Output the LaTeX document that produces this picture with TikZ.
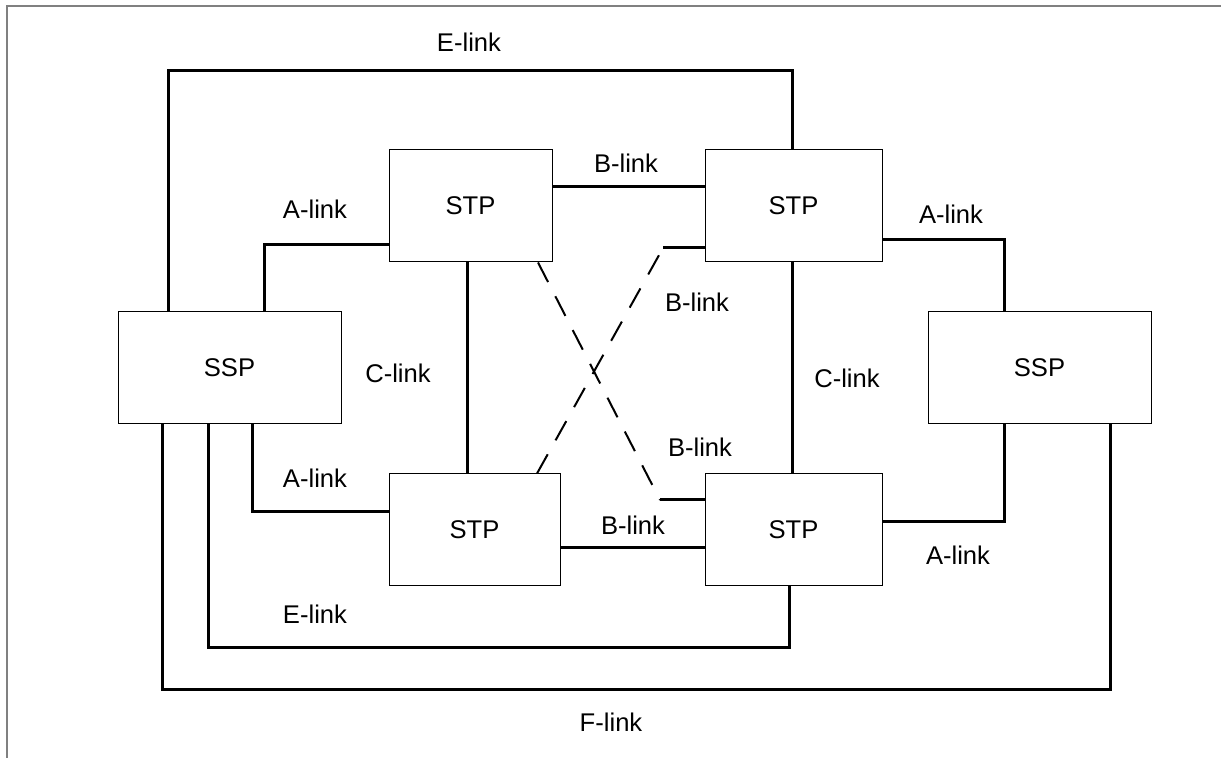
\documentclass[tikz,border=0pt]{standalone}
\usepackage{fontspec}
\setmainfont{Liberation Sans}
\usepackage{tikz}
\usetikzlibrary{arrows.meta}

\begin{document}
\begin{tikzpicture}[x=0.5pt, y=-0.5pt, font=\fontsize{12.8}{15}\selectfont]
\tikzstyle{box}=[draw, line width=.5pt, minimum height=56pt, inner sep=0pt]
\tikzstyle{link}=[line width=1.5pt]
\tikzstyle{cross}=[line width=1pt, dash pattern=on 11pt off 8pt]
\tikzstyle{lbl}=[inner sep=0pt]

\useasboundingbox (0,0) rectangle (1221,758);
\draw[gray, line width=1pt] (7,758) -- (7,6) -- (1221,6);

\node[box, minimum width=81.5pt] (stpTL) at (470.5,206) {STP};
\node[box, minimum width=88.5pt] (stpTR) at (793.5,206) {STP};
\node[box, minimum width=111.5pt] (sspL) at (229.5,368) {SSP};
\node[box, minimum width=111.5pt] (sspR) at (1039.5,368) {SSP};
\node[box, minimum width=85.5pt] (stpBL) at (474.5,530) {STP};
\node[box, minimum width=88.5pt] (stpBR) at (793.5,530) {STP};

\coordinate (bendD) at (660,500);
\coordinate (bendU) at (663,248);

\draw[link] (168,0 |- sspL.north) |- (792,71) -- (792,0 |- stpTR.north);
\draw[link] (264,0 |- sspL.north) |- (stpTL.west |- 0,245);
\draw[link] (stpTL.east |- 0,187) -- (stpTR.west |- 0,187);
\draw[link] (467,0 |- stpTL.south) -- (467,0 |- stpBL.north);
\draw[link] (792,0 |- stpTR.south) -- (792,0 |- stpBR.north);
\draw[link] (stpTR.east |- 0,240) -| (1004,0 |- sspR.north);
\draw[link] (1004,0 |- sspR.south) |- (stpBR.east |- 0,522);
\draw[link] (stpBL.east |- 0,548) -- (stpBR.west |- 0,548);
\draw[link] (252,0 |- sspL.south) |- (stpBL.west |- 0,512);
\draw[link] (208,0 |- sspL.south) |- (789,648) -- (789,0 |- stpBR.south);
\draw[link] (162,0 |- sspL.south) |- (1110,690) -- (1110,0 |- sspR.south);

\draw[cross] (538,0 |- stpTL.south) -- (bendD);
\draw[link] (bendD) -- (stpBR.west |- bendD);
\draw[cross] (537,0 |- stpBL.north) -- (bendU);
\draw[link] (bendU) -- (stpTR.west |- bendU);

\node[lbl] (eTop) at (469,42) {E-link};
\node[lbl] (aTL) at (315,209) {A-link};
\node[lbl] (bTop) at (626,163) {B-link};
\node[lbl] (aTR) at (951,214) {A-link};
\node[lbl] (bUp) at (697,302) {B-link};
\node[lbl] (cL) at (398,373) {C-link};
\node[lbl] (cR) at (847,378) {C-link};
\node[lbl] (bLow) at (700,447) {B-link};
\node[lbl] (aBL) at (315,478) {A-link};
\node[lbl] (bBot) at (633,525) {B-link};
\node[lbl] (aBR) at (958,555) {A-link};
\node[lbl] (eBot) at (315,614) {E-link};
\node[lbl] (fBot) at (611,722) {F-link};
\end{tikzpicture}
\end{document}
